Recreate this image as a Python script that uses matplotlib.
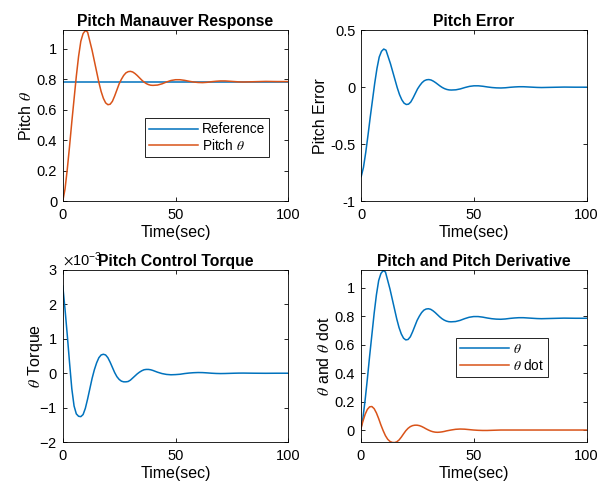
import matplotlib
matplotlib.use("Agg")
import matplotlib.pyplot as plt
import numpy as np
from matplotlib.ticker import ScalarFormatter

plt.rcParams['font.family'] = ['Liberation Sans', 'DejaVu Sans']
plt.rcParams['mathtext.fontset'] = 'stix'
plt.rcParams['axes.unicode_minus'] = False
plt.rcParams['xtick.direction'] = 'in'
plt.rcParams['ytick.direction'] = 'in'
plt.rcParams['xtick.top'] = True
plt.rcParams['ytick.right'] = True

# time samples (sec)
t = [0, 1, 2, 3, 4, 5, 6, 7, 8, 9, 10, 11, 12, 13, 14, 15, 16, 17, 18, 19,
     20, 21, 22, 23, 24, 25, 26, 27, 28, 29, 30, 31, 32, 33, 34, 35, 36, 37, 38, 39,
     40, 42, 44, 46, 48, 50, 52, 54, 56, 58, 60, 62, 64, 66, 68, 70, 72, 74, 76, 78,
     80, 85, 90, 95, 100]

# pitch angle theta (rad)
theta = [0.0, 0.08, 0.21, 0.36, 0.52, 0.67, 0.82, 0.95, 1.05, 1.10,
         1.12, 1.11, 1.05, 0.99, 0.92, 0.85, 0.78, 0.72, 0.675, 0.645,
         0.633, 0.636, 0.655, 0.69, 0.73, 0.77, 0.80, 0.825, 0.842, 0.850,
         0.852, 0.848, 0.838, 0.825, 0.810, 0.795, 0.782, 0.772, 0.765, 0.761,
         0.760, 0.762, 0.770, 0.782, 0.792, 0.797, 0.797, 0.793, 0.787, 0.782,
         0.779, 0.778, 0.780, 0.784, 0.787, 0.789, 0.789, 0.787, 0.785, 0.783,
         0.782, 0.784, 0.786, 0.785, 0.785]

# pitch rate theta dot
theta_dot = [0.0, 0.06, 0.11, 0.145, 0.163, 0.165, 0.15, 0.12, 0.08, 0.035,
             -0.005, -0.04, -0.065, -0.08, -0.087, -0.088, -0.083, -0.07, -0.05, -0.027,
             -0.005, 0.012, 0.024, 0.031, 0.034, 0.034, 0.031, 0.025, 0.017, 0.008,
             0.0, -0.007, -0.012, -0.015, -0.016, -0.015, -0.013, -0.01, -0.006, -0.003,
             0.0, 0.005, 0.007, 0.006, 0.003, 0.0, -0.002, -0.003, -0.003, -0.002,
             -0.001, 0.0, 0.0, 0.0, 0.0, 0.0, 0.0, 0.0, 0.0, 0.0,
             0.0, 0.0, 0.0, 0.0, 0.0]

# control torque, in units of 1e-3
torque_e3 = [2.53, 1.85, 1.10, 0.30, -0.45, -0.95, -1.18, -1.25, -1.26, -1.20,
             -1.02, -0.75, -0.45, -0.15, 0.10, 0.30, 0.45, 0.53, 0.55, 0.53,
             0.45, 0.32, 0.17, 0.02, -0.10, -0.18, -0.23, -0.25, -0.25, -0.24,
             -0.20, -0.14, -0.08, -0.02, 0.03, 0.07, 0.10, 0.11, 0.11, 0.10,
             0.08, 0.03, -0.01, -0.035, -0.045, -0.04, -0.03, -0.01, 0.005, 0.015,
             0.02, 0.018, 0.01, 0.0, -0.007, -0.01, -0.008, -0.004, 0.0, 0.003,
             0.004, 0.0, -0.002, 0.0, 0.0]

reference = 0.785
t_ref = [0, 100]

blue = '#0072BD'
orange = '#D95319'

t = np.array(t)
theta = np.array(theta)
pitch_error = theta - reference

fig = plt.figure(figsize=(5.98, 4.88), dpi=100)
ax1 = fig.add_axes([0.105, 0.588, 0.377, 0.350])
ax2 = fig.add_axes([0.604, 0.588, 0.377, 0.350])
ax3 = fig.add_axes([0.105, 0.094, 0.377, 0.353])
ax4 = fig.add_axes([0.603, 0.094, 0.378, 0.353])

for ax in (ax1, ax2, ax3, ax4):
    ax.set_xlim(0, 100)
    ax.set_xticks([0, 50, 100])
    ax.tick_params(labelsize=10.5, length=3, width=0.6)
    ax.tick_params(axis='x', pad=5)
    ax.tick_params(axis='y', pad=4)
    for s in ax.spines.values():
        s.set_linewidth(0.6)
    ax.set_xlabel('Time(sec)', fontsize=11.5, labelpad=2)

# pitch manoeuvre
ax1.plot(t_ref, [reference, reference], color=blue, lw=1.1, label='Reference')
ax1.plot(t, theta, color=orange, lw=1.1, label=r'Pitch $\theta$')
ax1.set_ylim(0, 1.122)
ax1.set_yticks([0, 0.2, 0.4, 0.6, 0.8, 1])
ax1.set_yticklabels(['0', '0.2', '0.4', '0.6', '0.8', '1'])
ax1.set_ylabel(r'Pitch $\theta$', fontsize=11.5, labelpad=2)
ax1.set_title('Pitch Manauver Response', fontsize=11.3, fontweight='bold', pad=3, y=1.0)
leg = ax1.legend(loc='lower left', bbox_to_anchor=(0.364, 0.259), borderaxespad=0,
                 fontsize=9.8, handlelength=3.6, handletextpad=0.3, borderpad=0.3,
                 labelspacing=0.1, fancybox=False, framealpha=1)
leg.get_frame().set_edgecolor('black')
leg.get_frame().set_linewidth(0.6)

# pitch error
ax2.plot(t, pitch_error, color=blue, lw=1.1)
ax2.set_ylim(-1, 0.5)
ax2.set_yticks([-1, -0.5, 0, 0.5])
ax2.set_yticklabels(['-1', '-0.5', '0', '0.5'])
ax2.set_ylabel('Pitch Error', fontsize=11.5, labelpad=2)
ax2.set_title('Pitch Error', fontsize=11.3, fontweight='bold', pad=3, y=1.0)

# control torque
ax3.plot(t, np.array(torque_e3) * 1e-3, color=blue, lw=1.1)
ax3.set_ylim(-2e-3, 3e-3)
ax3.set_yticks(np.arange(-2, 4) * 1e-3)
fmt = ScalarFormatter(useMathText=True)
fmt.set_powerlimits((-2, 2))
ax3.yaxis.set_major_formatter(fmt)
ax3.yaxis.get_offset_text().set_fontsize(10.5)
ax3.set_ylabel(r'$\theta$ Torque', fontsize=11.5, labelpad=-4)
ax3.set_title('Pitch Control Torque', fontsize=11.3, fontweight='bold', pad=3, y=1.0)

# pitch and derivative
ax4.plot(t, theta, color=blue, lw=1.1, label=r'$\theta$')
ax4.plot(t, theta_dot, color=orange, lw=1.1, label=r'$\theta$ dot')
ax4.set_ylim(-0.085, 1.125)
ax4.set_yticks([0, 0.2, 0.4, 0.6, 0.8, 1])
ax4.set_yticklabels(['0', '0.2', '0.4', '0.6', '0.8', '1'])
ax4.set_ylabel(r'$\theta$ and $\theta$ dot', fontsize=11.5, labelpad=2)
ax4.set_title('Pitch and Pitch Derivative', fontsize=11.3, fontweight='bold', pad=3, y=1.0)
leg = ax4.legend(loc='lower left', bbox_to_anchor=(0.42, 0.38), borderaxespad=0,
                 fontsize=9.8, handlelength=3.6, handletextpad=0.3, borderpad=0.3,
                 labelspacing=0.1, fancybox=False, framealpha=1)
leg.get_frame().set_edgecolor('black')
leg.get_frame().set_linewidth(0.6)

fig.savefig('out.png', dpi=100)
